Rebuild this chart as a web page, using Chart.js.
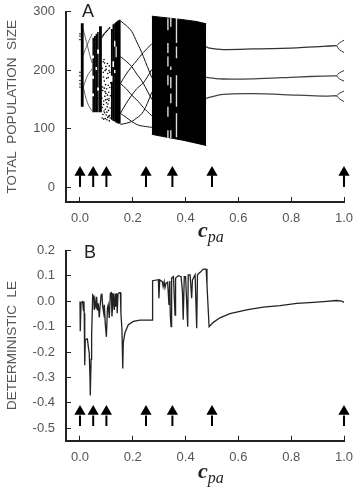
<!DOCTYPE html>
<html>
<head>
<meta charset="utf-8">
<script src="https://cdn.jsdelivr.net/npm/chart.js@4"></script>
<style>
  body { margin: 0; background: #fff; width: 359px; height: 500px; position: relative; overflow: hidden; }
  canvas { position: absolute; left: 0; }
  .panel { position: absolute; font: 18px "Liberation Sans", sans-serif; color: #222; }
  .xname { position: absolute; font: italic bold 22px "Liberation Serif", serif; color: #222; }
  .xname span { font: italic 16px "Liberation Serif", serif; position: relative; top: 5px; }
</style>
</head>
<body>
<canvas id="chartA" width="359" height="240" style="top:0"></canvas>
<canvas id="chartB" width="359" height="260" style="top:240px"></canvas>
<div class="panel" style="left:82px;top:1px">A</div>
<div class="panel" style="left:84px;top:242px">B</div>
<div class="xname" style="left:198px;top:217px">c<span>pa</span></div>
<div class="xname" style="left:198px;top:458px">c<span>pa</span></div>
<script>
const xTicks = [0, 0.2, 0.4, 0.6, 0.8, 1];
const yTicksA = [0, 100, 200, 300];
const yTicksB = [-0.5, -0.4, -0.3, -0.2, -0.1, 0, 0.1, 0.2];
const arrowX = [0, 0.05, 0.1, 0.25, 0.35, 0.5, 1];

// panel A, solid band
const bandX = [0.272, 0.33, 0.39, 0.44, 0.478];
const bandHigh = [292, 289, 286, 283, 279];
const bandLow = [90, 85, 80, 75, 71];

// white slits in the band
const slitX = [0.333, 0.333, 0.333, 0.333, 0.333, 0.333, 0.344, 0.344, 0.344, 0.344, 0.344, 0.3655, 0.3655, 0.3655, 0.3655];
const slitLow = [268, 229, 206, 174, 120, 84, 274, 200, 169, 143, 84, 246, 220, 137, 85];
const slitHigh = [288, 246, 223, 191, 137, 97, 291, 206, 188, 160, 97, 289, 240, 191, 126];

// vertical strokes of the chaotic part on the left
const stripX = [0.006, 0.011, 0.05, 0.05, 0.05, 0.05, 0.056, 0.062, 0.062, 0.068, 0.068, 0.068, 0.075, 0.08,
  0.12, 0.12, 0.126, 0.126, 0.132, 0.132, 0.132, 0.137, 0.137, 0.142, 0.147, 0.151];
const stripLow = [137, 137, 225, 190, 160, 128, 128, 205, 128, 235, 170, 128, 128, 128,
  190, 115, 215, 113, 250, 200, 112, 240, 110, 109, 108, 108];
const stripHigh = [280, 280, 255, 220, 185, 155, 258, 262, 200, 265, 228, 165, 275, 275,
  270, 180, 278, 205, 280, 240, 195, 282, 222, 284, 285, 286];

// scattered dots
const dotX = [0, 0, 0, 0, 0, 0, 0, 0,
  0.083, 0.086, 0.089, 0.092, 0.096, 0.1, 0.104, 0.108, 0.112,
  0.084, 0.085, 0.083, 0.086, 0.084, 0.088, 0.087, 0.089, 0.086, 0.088,
  0.09, 0.091, 0.09, 0.092, 0.089, 0.091, 0.093, 0.094, 0.092, 0.095, 0.093,
  0.096, 0.097, 0.095, 0.098, 0.096, 0.099, 0.1, 0.098, 0.101, 0.099, 0.097,
  0.102, 0.103, 0.101, 0.104, 0.102, 0.105, 0.106, 0.104, 0.107, 0.105, 0.103,
  0.108, 0.109, 0.107, 0.11, 0.108, 0.111, 0.112, 0.11, 0.113, 0.111, 0.109,
  0.114, 0.115, 0.113, 0.114, 0.116];
const dotY = [262, 258, 252, 196, 190, 182, 176, 171,
  256, 258, 260, 262, 264, 266, 268, 270, 272,
  118, 136, 152, 171, 203, 214, 124, 141, 165, 196,
  116, 130, 147, 169, 188, 218, 127, 155, 181, 199, 212,
  117, 149, 163, 206, 133, 123, 144, 160, 186, 201, 175,
  115, 137, 168, 211, 128, 119, 142, 157, 174, 194, 150,
  131, 148, 187, 199, 121, 113, 122, 151, 170, 207, 162,
  118, 156, 196, 135, 178];

// branches of the periodic window 0.153 - 0.272
const branchX = [0.153, 0.175, 0.196, 0.215, 0.227, 0.24, 0.255, 0.272];
const branch1 = [284, 276, 266, 248, 237, 223, 206, 187];
const branch2 = [177, 193, 206, 216, 223, 230, 237, 245];
const branch3 = [223, 215, 206, 193, 186, 177, 164, 150];
const branch4 = [126, 143, 157, 168, 173, 178, 188, 201];
const branch5 = [177, 168, 157, 149, 143, 136, 129, 122];
const branch6 = [107, 109, 112, 118, 122, 129, 143, 162];
const branch7 = [126, 119, 112, 107, 105, 104, 103, 102];

// thin curves between the first strip and the second one
const earlyX = [0.012, 0.02, 0.03, 0.038, 0.046];
const early1 = [270, 256, 238, 224, 212];
const early2 = [225, 235, 246, 254, 262];
const early3 = [172, 156, 142, 135, 130];
const early4 = [170, 181, 192, 197, 202];

// stable branches to the right of the band
const stableX = [0.478, 0.486, 0.543, 0.657, 0.821, 0.922, 0.972];
const stable1 = [240, 238, 235, 236, 238, 240.5, 241.6];
const stable2 = [187.5, 187, 184.6, 185, 188, 189.7, 190];
const stable3 = [151, 153, 158.5, 159.5, 157, 155.5, 156];
const forkX = [0.972, 0.982, 1];
const fork1Up = [241.6, 246, 251];
const fork1Down = [241.6, 235, 230];
const fork2Up = [190, 195, 199];
const fork2Down = [190, 185, 181];
const fork3Up = [156, 160, 164];
const fork3Down = [156, 151, 146];

// panel B
const leX = [0, 0.001, 0.004, 0.01, 0.013, 0.015, 0.016, 0.018, 0.02, 0.028, 0.032, 0.035, 0.038, 0.039, 0.042, 0.044,
  0.048, 0.052, 0.054, 0.057, 0.061, 0.063, 0.066, 0.069, 0.073, 0.076, 0.08, 0.083, 0.086, 0.09, 0.092, 0.096,
  0.1, 0.104, 0.107, 0.111, 0.115, 0.119, 0.121, 0.124, 0.126, 0.13, 0.133, 0.135, 0.139, 0.141, 0.144, 0.149,
  0.153, 0.155, 0.159, 0.162, 0.164, 0.17, 0.183, 0.202, 0.227, 0.274,
  0.275, 0.297, 0.299, 0.302, 0.312, 0.315, 0.319, 0.322, 0.326, 0.332, 0.337, 0.34, 0.342, 0.345, 0.347, 0.354,
  0.36, 0.362, 0.372, 0.383, 0.388, 0.391, 0.395, 0.4, 0.408, 0.41, 0.417, 0.423, 0.426, 0.436, 0.442, 0.445,
  0.455, 0.467, 0.478, 0.481, 0.489,
  0.505, 0.53, 0.568, 0.631, 0.694, 0.758, 0.821, 0.884, 0.934, 0.972, 0.991, 1];
const leY = [-0.001, -0.118, -0.005, -0.001, -0.036, -0.001, -0.047, -0.252, -0.151, -0.148, -0.183, -0.203, -0.306, -0.371, -0.229, -0.14,
  0.025, 0.018, -0.034, 0.005, -0.027, 0.018, -0.036, -0.008, -0.064, -0.021, 0.025, 0.031, -0.021, -0.047, -0.014, -0.092,
  -0.14, -0.027, -0.014, -0.066, 0.031, 0.034, -0.06, -0.014, 0.031, -0.034, 0.031, -0.021, 0.031, -0.047, 0.029, 0.034,
  0.034, -0.047, -0.112, -0.265, -0.164, -0.125, -0.092, -0.079, -0.074, -0.074,
  0.081, 0.085, 0.012, 0.084, 0.077, 0.058, 0.077, 0.054, 0.071, 0.075, -0.014, 0.08, -0.054, -0.1, 0.091, 0.097,
  -0.054, 0.091, 0.101, 0.097, 0.038, -0.073, 0.097, 0.097, -0.1, 0.104, 0.104, 0.012, 0.084, 0.104, -0.106, 0.104,
  0.114, 0.127, 0.127, 0.064, -0.1,
  -0.083, -0.065, -0.049, -0.034, -0.023, -0.017, -0.008, -0.004, 0, 0.003, 0.001, -0.004];

const ink = "#111";

function pairs(xs, ys) {
  return xs.map((x, i) => ({ x: x, y: ys[i] }));
}

// vertical strokes, broken apart with null points
function strokes(xs, lows, highs) {
  const out = [];
  xs.forEach((x, i) => {
    out.push({ x: x, y: lows[i] }, { x: x, y: highs[i] }, { x: x, y: null });
  });
  return out;
}

function curve(xs, ys, width, color) {
  return { data: pairs(xs, ys), showLine: true, pointRadius: 0, borderWidth: width, borderColor: color || ink, tension: 0.3 };
}

function arrowSets(baseY, neckY, headY) {
  return [
    { data: arrowX.map(x => ({ x: x, y: headY })), pointStyle: "triangle", pointRadius: 6.5, backgroundColor: "#000", borderWidth: 0, clip: 10 },
    { data: strokes(arrowX, arrowX.map(() => baseY), arrowX.map(() => neckY)), showLine: true, pointRadius: 0, borderWidth: 2, borderColor: "#000", clip: 10 }
  ];
}

function scales(xMin, yMin, yMax, yList, yDigits, yName, bottomSpace) {
  return {
    x: {
      type: "linear", min: xMin, max: 1,
      afterBuildTicks: s => { s.ticks = xTicks.map(v => ({ value: v })); },
      afterFit: s => { s.height = bottomSpace; s.paddingLeft = 0; s.paddingRight = 0; },
      border: { color: "#222", width: 2 },
      grid: { drawOnChartArea: false, tickLength: -5, color: "#222", tickWidth: 1 },
      ticks: { padding: 14, maxRotation: 0, autoSkip: false, color: "#555", font: { family: "Liberation Sans", size: 13 }, callback: v => v.toFixed(1) }
    },
    y: {
      type: "linear", min: yMin, max: yMax,
      afterBuildTicks: s => { s.ticks = yList.map(v => ({ value: v })); },
      afterFit: s => { s.width = 66; s.paddingTop = 0; s.paddingBottom = 0; },
      border: { color: "#222", width: 2 },
      grid: { drawOnChartArea: false, tickLength: -5, color: "#222", tickWidth: 1 },
      title: { display: true, text: yName, color: "#555", font: { family: "Liberation Sans", size: 13.5 }, padding: { top: 4, bottom: 0 } },
      ticks: { padding: 16, autoSkip: false, color: "#555", font: { family: "Liberation Sans", size: 13 }, callback: v => v.toFixed(yDigits) }
    }
  };
}

function draw(id, datasets, scaleOpts, topPad) {
  return new Chart(document.getElementById(id), {
    type: "scatter",
    data: { datasets: datasets },
    options: {
      responsive: false,
      animation: false,
      layout: { padding: { top: topPad, right: 15, left: 0, bottom: 0 } },
      plugins: { legend: { display: false }, tooltip: { enabled: false } },
      scales: scaleOpts
    }
  });
}

draw("chartA", [
  ...arrowSets(0, 20, 24.8),
  { data: strokes(slitX, slitLow, slitHigh), showLine: true, pointRadius: 0, borderWidth: 1.4, borderColor: "#ddd" },
  { data: pairs(bandX, bandHigh), showLine: true, pointRadius: 0, borderWidth: 1, borderColor: "#000", fill: "+1", backgroundColor: "#000" },
  { data: pairs(bandX, bandLow), showLine: true, pointRadius: 0, borderWidth: 1, borderColor: "#000" },
  { data: strokes(stripX, stripLow, stripHigh), showLine: true, pointRadius: 0, borderWidth: 1.5, borderColor: "#000" },
  { data: pairs(dotX, dotY), pointRadius: 0.8, backgroundColor: "#000", borderWidth: 0 },
  curve(branchX, branch1, 1),
  curve(branchX, branch2, 1),
  curve(branchX, branch3, 1),
  curve(branchX, branch4, 1),
  curve(branchX, branch5, 1),
  curve(branchX, branch6, 1),
  curve(branchX, branch7, 1),
  curve(earlyX, early1, 0.8, "#444"),
  curve(earlyX, early2, 0.8, "#444"),
  curve(earlyX, early3, 0.8, "#444"),
  curve(earlyX, early4, 0.8, "#444"),
  curve(stableX, stable1, 1.3, "#333"),
  curve(stableX, stable2, 1.3, "#444"),
  curve(stableX, stable3, 1.3, "#444"),
  curve(forkX, fork1Up, 1, "#333"),
  curve(forkX, fork1Down, 1, "#333"),
  curve(forkX, fork2Up, 1, "#333"),
  curve(forkX, fork2Down, 1, "#333"),
  curve(forkX, fork3Up, 1, "#333"),
  curve(forkX, fork3Down, 1, "#333")
], scales(-0.053, -25.6, 300, yTicksA, 0, "TOTAL  POPULATION  SIZE", 38), 11.5);

draw("chartB", [
  ...arrowSets(-0.491, -0.45, -0.434),
  { data: pairs(leX, leY), showLine: true, pointRadius: 0, borderWidth: 1.3, borderColor: "#222" }
], scales(-0.053, -0.549, 0.2, yTicksB, 1, "DETERMINISTIC  LE", 59.3), 10.5);
</script>
</body>
</html>
